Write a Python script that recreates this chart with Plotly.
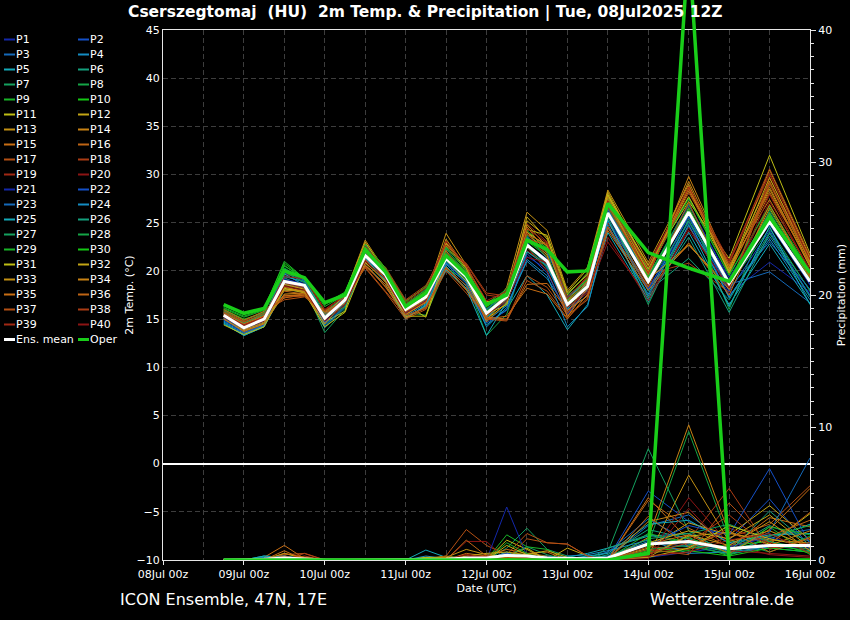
import plotly.graph_objects as go

# ---------------- data ----------------
times = [
    "2025-07-08 18:00",
    "2025-07-09 00:00", "2025-07-09 06:00", "2025-07-09 12:00", "2025-07-09 18:00",
    "2025-07-10 00:00", "2025-07-10 06:00", "2025-07-10 12:00", "2025-07-10 18:00",
    "2025-07-11 00:00", "2025-07-11 06:00", "2025-07-11 12:00", "2025-07-11 18:00",
    "2025-07-12 00:00", "2025-07-12 06:00", "2025-07-12 12:00", "2025-07-12 18:00",
    "2025-07-13 00:00", "2025-07-13 06:00", "2025-07-13 12:00",
    "2025-07-14 00:00", "2025-07-14 12:00", "2025-07-15 00:00", "2025-07-15 12:00",
    "2025-07-16 00:00",
]

member_names = ["P%d" % i for i in range(1, 41)]

temp_members = [
    [15.0,13.8,14.6,19.2,18.6,14.9,16.8,21.8,19.4,15.8,17.0,21.0,19.6,15.2,16.9,21.5,20.2,16.8,18.0,25.5,18.2,25.0,17.6,20.9,17.8],
    [15.6,14.3,15.1,19.8,18.9,15.4,17.1,22.2,20.0,16.3,17.4,21.8,19.8,15.8,17.5,23.5,22.0,17.2,18.9,26.5,19.3,27.0,19.0,24.8,18.6],
    [15.2,13.9,14.8,19.5,18.8,15.0,16.9,22.4,19.9,16.1,17.6,22.0,19.5,15.1,17.0,23.0,20.4,15.9,17.8,25.8,18.0,24.6,18.6,19.9,16.7],
    [14.8,13.5,14.3,18.6,18.2,14.4,16.5,21.2,19.1,15.5,16.8,20.8,19.0,14.8,16.4,21.0,19.2,16.0,17.4,24.5,17.6,25.8,17.2,23.6,17.5],
    [14.6,13.3,14.2,18.0,17.9,14.1,16.2,20.6,18.6,15.0,16.5,20.5,18.4,14.4,16.0,19.5,17.5,13.9,16.5,24.0,17.0,24.0,16.5,22.8,16.6],
    [15.3,14.0,14.9,19.0,18.4,15.2,17.2,21.7,19.5,15.9,17.3,21.2,19.2,15.6,17.1,22.4,21.1,16.4,18.6,26.0,17.9,21.3,17.0,24.0,18.0],
    [15.8,14.5,15.3,19.3,18.3,13.6,16.0,21.4,19.0,16.2,17.1,21.5,19.3,16.0,17.6,22.9,20.6,16.8,18.2,25.6,16.5,25.4,18.5,24.4,17.9],
    [15.5,14.2,15.0,20.3,19.1,15.3,16.9,21.9,19.8,15.7,15.4,20.3,19.0,13.3,15.5,22.0,20.8,17.2,18.9,26.8,19.6,26.4,16.0,26.3,19.5],
    [16.2,15.3,16.0,21.0,19.2,16.3,17.5,22.6,20.1,16.6,18.0,22.4,20.3,16.1,17.8,24.2,22.3,17.0,19.4,27.3,20.1,27.5,19.5,26.7,19.8],
    [16.0,15.0,15.6,20.6,19.0,15.8,17.3,22.0,19.9,16.4,17.9,21.6,19.7,15.9,17.2,23.1,21.5,16.2,18.5,26.6,19.0,26.2,18.9,25.9,19.2],
    [15.1,13.6,14.4,18.4,17.8,14.7,15.8,22.8,20.3,16.5,15.2,21.1,18.9,15.0,16.6,24.0,22.6,17.5,19.8,27.8,20.5,27.2,21.3,32.0,21.8],
    [15.7,14.4,15.2,19.0,18.6,15.5,17.4,22.5,19.7,15.9,17.2,22.8,20.2,16.3,17.9,25.2,23.5,16.9,19.3,28.0,19.8,28.3,20.2,29.3,20.6],
    [15.4,14.0,14.7,18.1,18.0,15.0,17.6,23.2,20.0,16.0,17.5,23.9,20.6,15.4,18.3,26.1,24.2,18.0,20.4,28.4,20.9,29.0,19.7,28.5,20.4],
    [15.0,13.7,14.5,18.3,17.8,14.6,16.6,21.5,19.2,15.4,16.9,22.6,20.0,14.9,17.3,24.6,21.8,15.6,19.0,27.5,19.4,29.8,20.5,27.4,20.0],
    [15.6,14.6,15.4,17.2,17.5,15.6,16.7,20.5,18.6,15.2,16.3,20.2,18.0,15.0,15.3,18.2,17.6,15.0,17.6,24.5,18.4,22.7,18.3,26.0,19.3],
    [15.9,14.7,15.5,17.4,17.6,15.9,17.0,20.8,18.3,15.6,16.8,21.4,19.1,15.3,17.0,23.8,22.8,16.7,18.7,27.0,19.9,28.8,19.9,28.0,20.8],
    [15.8,14.8,15.8,17.0,17.3,15.7,17.2,20.3,17.8,15.0,16.0,20.0,17.7,15.1,14.9,19.5,18.3,15.4,17.0,25.0,18.6,26.6,18.0,29.0,21.0],
    [15.3,14.2,15.1,18.7,18.2,15.1,17.0,21.0,20.4,17.0,18.5,22.2,20.8,17.7,17.4,22.5,20.0,15.3,18.4,26.3,19.7,20.8,17.8,29.6,21.3],
    [15.5,14.4,15.3,19.6,19.4,16.0,17.5,22.9,20.2,16.7,18.2,23.0,20.4,16.6,18.0,24.9,23.0,17.1,19.5,27.2,20.7,28.4,20.8,30.0,21.5],
    [15.2,14.0,14.9,18.5,18.1,14.8,16.4,21.1,19.3,15.7,17.0,21.7,19.6,15.5,17.1,22.1,20.7,16.3,17.7,23.0,17.3,24.2,18.4,27.2,20.2],
    [15.6,14.3,15.2,19.1,18.7,15.3,17.1,21.9,19.8,16.2,17.5,21.5,19.3,15.7,17.4,22.8,21.2,16.6,18.3,26.2,19.0,26.8,19.3,25.8,18.5],
    [14.9,13.6,14.4,18.8,18.3,14.7,16.6,21.3,19.5,15.6,17.0,20.9,18.8,14.6,15.9,21.8,19.8,15.5,18.1,25.2,18.1,25.6,17.9,24.2,17.4],
    [15.1,13.9,14.8,20.0,19.0,15.5,17.3,22.1,19.7,16.3,17.7,21.9,19.9,16.0,17.7,23.4,22.0,17.3,18.8,26.4,19.2,26.0,18.2,23.0,18.1],
    [14.7,13.4,14.3,19.4,18.9,14.3,16.3,21.5,19.4,15.3,16.6,20.7,18.7,14.2,16.2,21.2,19.5,14.2,16.3,24.8,17.4,25.2,17.3,23.3,17.0],
    [14.5,13.3,14.2,19.7,18.5,14.5,16.8,21.3,19.0,15.1,16.4,20.1,18.2,13.3,16.8,22.0,20.5,16.1,18.0,25.3,16.8,24.8,16.3,24.6,16.5],
    [15.4,14.1,15.0,20.2,19.2,15.4,17.2,22.7,19.9,16.0,17.2,21.0,19.1,15.2,17.0,23.6,21.3,16.9,18.6,26.1,17.2,23.5,15.7,23.9,17.3],
    [15.7,14.6,15.5,18.9,18.4,15.6,17.5,21.6,19.5,16.1,17.6,22.3,19.8,16.4,17.7,22.6,20.3,17.4,19.1,26.9,18.7,25.1,19.0,26.1,18.9],
    [15.9,14.9,15.7,19.9,18.8,15.1,16.3,22.3,20.0,16.5,18.1,21.2,19.2,15.8,17.6,23.2,21.7,16.5,18.6,26.7,19.5,26.9,18.6,25.4,18.8],
    [16.1,15.2,15.9,20.5,19.3,16.5,17.7,22.5,20.2,16.9,18.3,22.5,20.1,16.6,18.1,23.7,22.4,17.6,19.7,27.6,20.3,27.6,19.6,26.8,19.9],
    [16.4,15.5,16.2,20.8,19.2,16.6,17.8,22.8,20.3,16.8,18.4,22.0,19.9,16.3,17.9,22.7,21.0,16.7,19.2,27.1,19.3,26.5,18.8,25.0,19.1],
    [14.4,13.4,14.2,18.2,17.7,14.2,15.7,20.9,18.9,15.3,15.3,21.8,19.6,15.5,16.5,24.3,23.7,17.8,20.2,27.9,20.6,27.7,20.0,30.5,21.4],
    [15.5,14.2,15.0,18.6,18.1,15.2,17.6,23.0,19.8,15.8,17.1,22.9,20.5,16.8,17.2,25.6,23.3,17.7,19.6,28.2,20.2,28.6,19.8,29.7,20.9],
    [15.3,13.9,14.6,18.0,17.9,14.9,17.3,22.4,19.6,15.9,17.4,23.3,20.3,15.3,17.8,24.8,22.5,16.4,18.9,27.4,19.1,22.7,18.1,26.5,19.6],
    [15.0,13.8,14.5,17.6,17.7,14.5,16.9,22.0,19.1,15.5,16.7,22.1,19.4,14.7,16.8,24.1,21.6,15.2,18.2,27.7,19.9,29.3,20.3,28.7,20.5],
    [15.6,14.5,15.3,17.5,17.4,15.7,16.6,20.6,18.4,15.1,16.2,20.4,18.1,15.2,15.0,18.6,18.7,15.9,17.4,24.2,18.0,22.9,17.5,26.9,19.4],
    [16.0,14.9,15.8,17.9,17.6,15.8,16.9,21.2,18.8,15.8,16.9,21.6,19.5,15.6,17.3,23.3,22.7,16.8,19.0,26.9,19.6,28.6,20.6,28.2,20.7],
    [15.7,14.7,15.6,17.3,17.4,15.5,17.1,20.4,17.9,15.4,16.1,20.3,18.5,15.0,14.8,19.0,17.9,15.1,17.2,24.6,18.3,27.1,18.3,29.2,21.1],
    [15.4,14.3,15.2,18.8,18.3,15.2,17.3,22.0,20.2,16.9,18.3,22.7,20.7,17.5,17.2,23.9,21.4,15.6,18.6,26.6,19.8,28.1,20.9,30.6,21.6],
    [15.5,14.4,15.2,19.4,19.2,15.9,17.4,22.6,20.1,16.5,17.9,23.1,20.5,16.9,17.9,24.4,22.9,17.3,19.3,27.3,20.4,28.7,21.1,30.2,21.2],
    [15.2,14.0,14.8,18.4,18.0,14.8,16.5,21.0,19.2,15.6,16.9,21.9,19.8,15.4,16.9,21.4,20.9,16.2,17.9,23.5,16.9,24.5,18.2,27.9,20.0],
]

precip_members = [
    [0,0,0,0,0,0,0,0,0,0,0,0,0,0,0.2,0.3,0,0,0,0,0.6,1.2,0.8,1.0,0.9],
    [0,0,0,0,0,0,0,0,0,0,0,0,0,0,0.4,0.2,0.1,0,0,0.1,5.2,2.9,1.5,4.6,1.0],
    [0,0,0,0,0,0,0,0,0,0,0,0,0,0,0.3,0.1,0,0,0.1,0.2,2.6,3.4,1.2,1.8,2.3],
    [0,0,0.1,0.3,0,0,0,0,0,0,0.2,0,0,0,0.1,0,0,0,0.2,0.3,1.4,1.0,0.5,0.9,0.6],
    [0,0,0.3,0.2,0,0,0,0,0,0,0.75,0.2,0,0.1,0.2,0.4,0,0.2,0.5,0.9,1.8,2.0,0.6,1.6,2.7],
    [0,0,0,0.2,0.1,0,0,0,0,0,0,0,0.1,0,0.6,0.3,0,0,0,0.4,2.3,1.6,0.8,2.6,1.4],
    [0,0,0,0,0,0,0,0,0,0,0,0.2,0.1,0,0.9,2.4,0.8,0.3,0,0.6,8.4,2.2,0.4,1.1,0.7],
    [0,0,0,0.1,0,0,0,0,0,0,0,0,0,0,0.3,0.2,0,0,0,0.2,1.2,9.7,1.5,0.6,1.8],
    [0,0,0,0,0,0,0,0,0,0,0,0.1,0,0,1.9,1.0,0.8,0,0,0.1,2.0,1.3,0.3,2.5,0.4],
    [0,0,0,0,0,0,0,0,0,0,0,0,0,0,0.2,0.3,0.2,0,0,0,0.7,0.9,1.1,1.4,0.5],
    [0,0,0,0.5,0.1,0,0,0,0,0,0,0.1,0,0,1.5,0.8,0,0,0,0,0.4,1.8,2.1,1.2,3.5],
    [0,0,0,0.3,0,0,0,0,0,0,0.2,0.1,0,0,0.3,0.9,0,0.9,0.3,0,0.9,2.8,1.9,4.1,1.5],
    [0,0,0,0,0,0,0,0,0,0,0.1,0.3,0.1,0.2,0,0.5,0.3,0,0,0,0.3,6.4,1.4,2.2,1.0],
    [0,0,0,0,0,0,0,0,0,0,0,0,0,0,0.4,0.2,0.1,0,0,0,1.7,10.2,2.0,1.5,1.3],
    [0,0,0.2,1.1,0.1,0,0,0,0,0,0,0,0.5,0.3,0.8,0.5,0.6,0,0,0,4.7,1.5,0.9,3.2,2.5],
    [0,0,0,0.2,0.2,0,0,0,0,0,0,0,0,0,0,0.3,0.2,0,0,0,4.5,2.4,1.0,1.8,3.0],
    [0,0,0,0.4,0.5,0,0,0,0,0,0,0.3,2.3,1.1,0.4,2.0,1.3,1.2,0.3,0,1.0,0.8,1.7,2.7,5.6],
    [0,0,0,0,0.3,0,0,0,0,0,0,0,0,0,0,0.2,0.1,0,0,0,0.6,1.5,5.4,0.8,1.6],
    [0,0,0,0,0,0,0,0,0,0,0,0,0.2,0.3,0.1,0,0,0,0,0,0.5,0.9,2.4,1.3,0.8],
    [0,0,0,0,0,0,0,0,0,0,0,0,1.4,1.4,0,0,0,0,0,0,0.3,4.7,1.2,0.4,0.2],
    [0,0,0,0,0,0,0,0,0,0,0,0,0,0,4.0,0.3,0,0,0,0,0.2,0.6,1.0,1.7,0.9],
    [0,0,0,0,0,0,0,0,0,0,0,0,0,0,0.5,0.2,0,0,0,0.2,1.1,2.6,1.9,6.9,1.2],
    [0,0,0,0,0,0,0,0,0,0,0,0,0,0,0.2,0.2,0.3,0.1,0.2,0.6,3.1,1.4,0.7,2.1,7.7],
    [0,0,0.2,0.3,0.1,0,0,0,0,0,0.3,0.1,0,0,0.6,0,0,0.3,0.4,0.7,1.5,0.5,0.6,1.0,1.2],
    [0,0,0.3,0.2,0,0,0,0,0,0,0.1,0,0,0,0.2,0.1,0,0.1,0.3,0.5,2.7,3.0,1.3,1.9,2.0],
    [0,0,0,0,0,0,0,0,0,0,0,0,0,0,0.4,0.2,0,0,0,0.9,1.9,1.2,0.6,3.7,1.1],
    [0,0,0,0,0,0,0,0,0,0,0,0.2,0.2,0,0.3,1.0,0.4,0,0,0.2,1.6,2.0,2.7,1.4,0.8],
    [0,0,0,0,0,0,0,0,0,0,0,0,0,0,0.1,0.3,0,0,0,0,0.8,1.1,0.4,1.8,2.6],
    [0,0,0,0,0,0,0,0,0,0,0,0,0,0,1.3,0.5,0,0,0,0.2,1.1,1.7,0.5,2.5,1.9],
    [0,0,0,0,0,0,0,0,0,0,0,0,0,0,0.2,0.1,0,0,0,0,0.6,0.7,0.3,0.9,0.6],
    [0,0,0,0.2,0,0,0,0,0,0,0.2,0.2,0,0,1.1,0.4,0,0,0,0,0.2,0.9,2.6,1.6,1.0],
    [0,0,0,0,0,0,0,0,0,0,0,0,0.3,0.5,0.6,0.4,0.7,0.2,0,0,1.3,2.2,1.6,3.4,0.9],
    [0,0,0,0.2,0,0,0,0,0,0,0,0.2,0.8,0.4,0.2,0.3,0.2,0,0,0,0.2,1.9,1.1,2.9,0.7],
    [0,0,0,0.5,0.2,0,0,0,0,0,0,0,0,0,0.2,0.1,0,0,0,0,2.9,3.6,0.8,1.1,2.2],
    [0,0,0,0.7,0,0,0,0,0,0,0,0,0,0,0,0.1,0,0,0,0,1.2,1.9,0.5,2.3,5.4],
    [0,0,0,0.1,0.2,0,0,0,0,0,0,0,1.5,0.3,0.2,0.2,0,0,0,0,3.3,1.0,2.2,0.6,1.7],
    [0,0,0,0.3,0,0,0,0,0,0,0,0,0.4,0.2,0.1,1.6,1.3,1.2,0.3,0,0.8,0.4,4.3,1.2,3.6],
    [0,0,0,0,0.5,0,0,0,0,0,0,0,0,0,0,0,0,0,0,0,0.5,1.3,3.4,0.9,1.3],
    [0,0,0,0,0,0,0,0,0,0,0,0,0.2,0.3,0,0.2,0,0,0,0,0.3,0.6,1.5,2.0,0.5],
    [0,0,0,0,0,0,0,0,0,0,0,0,0.4,0.1,0,0,0,0,0,0,0.1,3.9,0.7,0.5,0.3],
]

mean_temp = [15.4,14.1,15.0,18.9,18.5,15.1,17.0,21.6,19.6,16.0,17.3,21.3,19.4,15.6,17.3,
             22.7,21.0,16.5,18.4,26.0,18.9,26.1,18.7,25.1,18.9]
oper_temp = [16.5,15.6,16.1,20.0,19.3,16.7,17.5,22.2,19.9,16.3,17.7,21.6,19.6,16.5,17.5,
             23.2,22.2,19.9,20.0,27.0,21.9,20.3,18.9,25.6,19.8]
mean_precip = [0,0,0.05,0.15,0.05,0,0,0,0,0,0.05,0.05,0.15,0.15,0.35,
               0.3,0.15,0.1,0.1,0.15,1.2,1.4,0.85,1.1,1.1]
oper_precip = [0,0,0,0,0,0,0,0,0,0,0,0,0,0,0,
               0,0,0,0,0,0.5,46.5,0,0,0]

palette20 = [
    "rgb(20,40,170)", "rgb(20,80,200)", "rgb(20,105,185)", "rgb(20,140,195)", "rgb(20,170,185)",
    "rgb(20,160,125)", "rgb(20,160,95)", "rgb(20,165,70)", "rgb(25,180,40)", "rgb(20,200,20)",
    "rgb(190,190,20)", "rgb(195,165,20)", "rgb(195,145,20)", "rgb(200,130,20)", "rgb(200,110,20)",
    "rgb(190,100,20)", "rgb(180,80,20)", "rgb(170,60,20)", "rgb(160,40,20)", "rgb(140,20,20)",
]
member_colors = [palette20[i % 20] for i in range(40)]
MEAN_COLOR = "white"
OPER_COLOR = "rgb(25,205,25)"

# ---------------- geometry ----------------
W, H = 850, 620
L, R, T, B = 163, 40, 0, 60
PW = W - L - R
PH = H - T - B
PLOT_TOP = 30  # pixel of the top of the temperature frame


def px(x):
    return (x - L) / PW


def py(y):
    return (H - B - y) / PH


FONT = "DejaVu Sans"
GRID = "#3d3d3d"
DASH = "5px,3px"
LINE = "#e6e6e6"

fig = go.Figure()

for name, vals, col in zip(member_names, temp_members, member_colors):
    fig.add_trace(go.Scatter(x=times, y=vals, mode="lines", name=name,
                             line=dict(color=col, width=1), xaxis="x", yaxis="y",
                             showlegend=False, hoverinfo="skip"))
for name, vals, col in zip(member_names, precip_members, member_colors):
    fig.add_trace(go.Scatter(x=times, y=vals, mode="lines", name=name,
                             line=dict(color=col, width=1), xaxis="x", yaxis="y2",
                             showlegend=False, hoverinfo="skip"))

fig.add_trace(go.Scatter(x=times, y=mean_temp, mode="lines", name="Ens. mean",
                         line=dict(color=MEAN_COLOR, width=3), yaxis="y", showlegend=False))
fig.add_trace(go.Scatter(x=times, y=oper_temp, mode="lines", name="Oper",
                         line=dict(color=OPER_COLOR, width=3.5), yaxis="y", showlegend=False))
fig.add_trace(go.Scatter(x=times, y=mean_precip, mode="lines", name="Ens. mean",
                         line=dict(color=MEAN_COLOR, width=3), yaxis="y2", showlegend=False))
# operational precipitation on a full-height overlay so the spike can leave the frame
fig.add_trace(go.Scatter(x=times, y=oper_precip, mode="lines", name="Oper",
                         line=dict(color=OPER_COLOR, width=3.5), xaxis="x2", yaxis="y3",
                         showlegend=False))

# ---------------- manual two-column legend ----------------
legend_names = member_names + ["Ens. mean", "Oper"]
legend_colors = member_colors + [MEAN_COLOR, OPER_COLOR]
shapes = []
annotations = []
for i, (nm, col) in enumerate(zip(legend_names, legend_colors)):
    c = i % 2
    r = i // 2
    yy = 39.5 + 15 * r
    x0 = 4 + 74 * c
    shapes.append(dict(type="line", xref="paper", yref="paper",
                       x0=px(x0), x1=px(x0 + 11), y0=py(yy), y1=py(yy),
                       line=dict(color=col, width=3 if nm in ("Ens. mean", "Oper") else 2)))
    annotations.append(dict(text=nm, xref="paper", yref="paper", x=px(x0 + 10), y=py(yy),
                            xanchor="left", yanchor="middle", showarrow=False,
                            font=dict(family=FONT, size=11, color="white")))

annotations.append(dict(text="Cserszegtomaj  (HU)  2m Temp. &amp; Precipitation | Tue, 08Jul2025 12Z",
                        xref="paper", yref="paper", x=px(425), y=py(12),
                        xanchor="center", yanchor="middle", showarrow=False,
                        font=dict(family=FONT, size=15.5, color="white", weight="bold")))
annotations.append(dict(text="ICON Ensemble, 47N, 17E", xref="paper", yref="paper",
                        x=px(118), y=py(599), xanchor="left", yanchor="middle", showarrow=False,
                        font=dict(family=FONT, size=16, color="white")))
annotations.append(dict(text="Wetterzentrale.de", xref="paper", yref="paper",
                        x=px(648), y=py(599), xanchor="left", yanchor="middle", showarrow=False,
                        font=dict(family=FONT, size=16, color="white")))

y_dom_top = (H - B - PLOT_TOP) / PH
x_range = ["2025-07-08 00:00", "2025-07-16 00:00"]

fig.update_layout(
    width=W, height=H,
    margin=dict(l=L, r=R, t=T, b=B, pad=0),
    paper_bgcolor="black", plot_bgcolor="rgba(0,0,0,0)",
    font=dict(family=FONT, size=11, color="white"),
    showlegend=False,
    shapes=shapes, annotations=annotations,
    xaxis=dict(
        type="date", domain=[0, 1], range=x_range, anchor="y",
        tick0="2025-07-08", dtick=86400000, tickformat="%d%b %Hz",
        ticks="outside", ticklen=4, tickcolor=LINE, tickfont=dict(size=11, color="white"),
        showline=True, linecolor=LINE, linewidth=1, mirror=True,
        showgrid=True, gridcolor=GRID, griddash=DASH, gridwidth=1,
        minor=dict(dtick=43200000, tick0="2025-07-08", showgrid=True,
                   gridcolor=GRID, griddash=DASH, ticks=""),
        zeroline=False, automargin=False,
        title=dict(text="Date (UTC)", font=dict(size=11, color="white"), standoff=4),
    ),
    yaxis=dict(
        domain=[0, y_dom_top], range=[-10, 45], dtick=5, anchor="x",
        showgrid=True, gridcolor=GRID, griddash=DASH, gridwidth=1,
        zeroline=True, zerolinecolor="white", zerolinewidth=1.5,
        showline=True, linecolor=LINE, linewidth=1, mirror=True,
        ticks="", tickfont=dict(size=11, color="white"), automargin=False,
        title=dict(text="2m Temp. (°C)", font=dict(size=11, color="white"), standoff=0),
    ),
    yaxis2=dict(
        overlaying="y", side="right", range=[0, 40], dtick=10, anchor="x",
        showgrid=False, zeroline=False, showline=True, linecolor=LINE,
        ticks="outside", ticklen=5, tickcolor=LINE,
        minor=dict(dtick=1, ticks="outside", ticklen=3, tickcolor=LINE),
        tickfont=dict(size=11, color="white"), automargin=False,
        title=dict(text="Precipitation (mm)", font=dict(size=11, color="white"), standoff=6),
    ),
    xaxis2=dict(type="date", domain=[0, 1], range=x_range, anchor="y3", visible=False),
    yaxis3=dict(domain=[0, 1], range=[0, 40 * PH / (H - B - PLOT_TOP)], anchor="x2",
                visible=False),
)

fig.write_html(
    "out.html",
    config={"displayModeBar": False},
    post_script="document.body.style.margin='0';document.body.style.background='black';",
)
